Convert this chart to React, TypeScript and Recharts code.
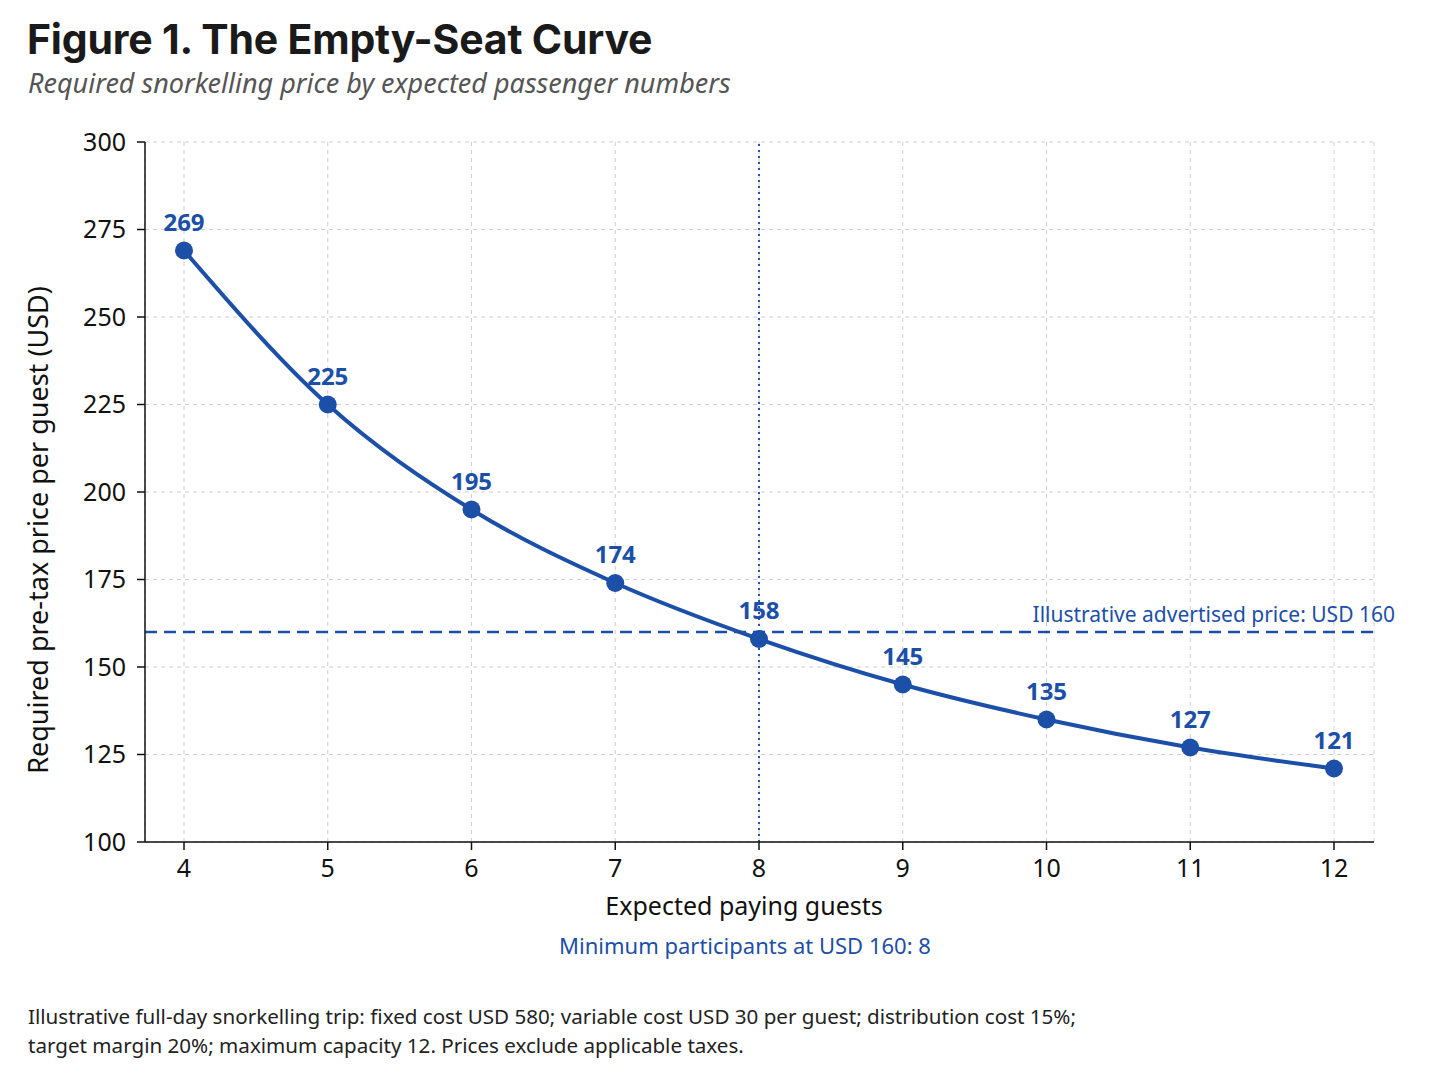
import React from "react";
import {
  LineChart,
  Line,
  XAxis,
  YAxis,
  CartesianGrid,
  ReferenceLine,
  LabelList,
} from "recharts";

const guests = [4, 5, 6, 7, 8, 9, 10, 11, 12];
const prices = [269, 225, 195, 174, 158, 145, 135, 127, 121];
const yTicks = [100, 125, 150, 175, 200, 225, 250, 275, 300];
const advertisedPrice = 160;
const minParticipants = 8;

const data = guests.map((g, i) => ({ guests: g, price: prices[i] }));

const BLUE = "#1c4fa8";
const FONT = "'Noto Sans', 'DejaVu Sans', sans-serif";

const AdvLabel = (props: any) => {
  const vb = props.viewBox || {};
  return (
    <text
      x={vb.x + vb.width + 21}
      y={vb.y - 10}
      textAnchor="end"
      fill={BLUE}
      fontSize={21}
      fontFamily={FONT}
    >
      Illustrative advertised price: USD {advertisedPrice}
    </text>
  );
};

export default function App() {
  return (
    <div
      style={{
        position: "absolute",
        left: 0,
        top: 0,
        width: 1448,
        height: 1086,
        background: "#fff",
        fontFamily: FONT,
        overflow: "hidden",
      }}
    >
      <div
        style={{
          position: "absolute",
          left: 27,
          top: 14,
          fontFamily: "Inter, sans-serif",
          fontWeight: 700,
          fontSize: 41,
          color: "#1a1a1a",
          letterSpacing: -0.2,
          whiteSpace: "nowrap",
        }}
      >
        Figure 1. The Empty-Seat Curve
      </div>
      <div
        style={{
          position: "absolute",
          left: 28,
          top: 64,
          fontStyle: "italic",
          fontSize: 27,
          color: "#555",
          whiteSpace: "nowrap",
        }}
      >
        Required snorkelling price by expected passenger numbers
      </div>

      <div style={{ position: "absolute", left: 0, top: 0 }}>
        <LineChart
          width={1448}
          height={900}
          data={data}
          margin={{ top: 142, right: 74, bottom: 18, left: 0 }}
        >
          <CartesianGrid
            stroke="#cfcfcf"
            strokeDasharray="4 4"
            strokeWidth={1}
          />
          <XAxis
            dataKey="guests"
            type="number"
            domain={[4, 12]}
            ticks={guests}
            padding={{ left: 39, right: 40 }}
            stroke="#111"
            strokeWidth={1.5}
            tickSize={8}
            height={40}
            tick={{ fill: "#111", fontSize: 25, fontFamily: FONT, dy: 7 }}
          />
          <YAxis
            type="number"
            domain={[100, 300]}
            ticks={yTicks}
            width={145}
            stroke="#111"
            strokeWidth={1.5}
            tickSize={8}
            tick={{ fill: "#111", fontSize: 25, fontFamily: FONT, dx: -9 }}
          />
          <ReferenceLine
            y={advertisedPrice}
            stroke={BLUE}
            strokeWidth={2.5}
            strokeDasharray="12 7"
            label={<AdvLabel />}
          />
          <ReferenceLine
            x={minParticipants}
            stroke="#2450c8"
            strokeWidth={2}
            strokeDasharray="2 4"
          />
          <Line
            type="monotone"
            dataKey="price"
            stroke={BLUE}
            strokeWidth={4}
            dot={{ r: 9, fill: BLUE, stroke: BLUE, strokeWidth: 0 }}
            isAnimationActive={false}
          >
            <LabelList
              dataKey="price"
              position="top"
              offset={20}
              fill={BLUE}
              fontSize={24}
              fontWeight={700}
              fontFamily={FONT}
            />
          </Line>
        </LineChart>
      </div>

      <div
        style={{
          position: "absolute",
          left: 38,
          top: 530,
          width: 0,
          height: 0,
        }}
      >
        <div
          style={{
            position: "absolute",
            left: 0,
            top: 0,
            transform: "translate(-50%, -50%) rotate(-90deg)",
            whiteSpace: "nowrap",
            fontSize: 27,
            lineHeight: "32px",
            color: "#111",
          }}
        >
          Required pre-tax price per guest (USD)
        </div>
      </div>

      <div
        style={{
          position: "absolute",
          left: 0,
          width: 1488,
          top: 888,
          textAlign: "center",
          fontSize: 25,
          color: "#111",
        }}
      >
        Expected paying guests
      </div>
      <div
        style={{
          position: "absolute",
          left: 0,
          width: 1490,
          top: 930,
          textAlign: "center",
          fontSize: 22,
          color: BLUE,
        }}
      >
        Minimum participants at USD {advertisedPrice}: {minParticipants}
      </div>

      <div
        style={{
          position: "absolute",
          left: 28,
          top: 1002,
          fontSize: 20.6,
          lineHeight: "29px",
          color: "#222",
          whiteSpace: "nowrap",
        }}
      >
        Illustrative full-day snorkelling trip: fixed cost USD 580; variable
        cost USD 30 per guest; distribution cost 15%;
        <br />
        target margin 20%; maximum capacity 12. Prices exclude applicable
        taxes.
      </div>
    </div>
  );
}
